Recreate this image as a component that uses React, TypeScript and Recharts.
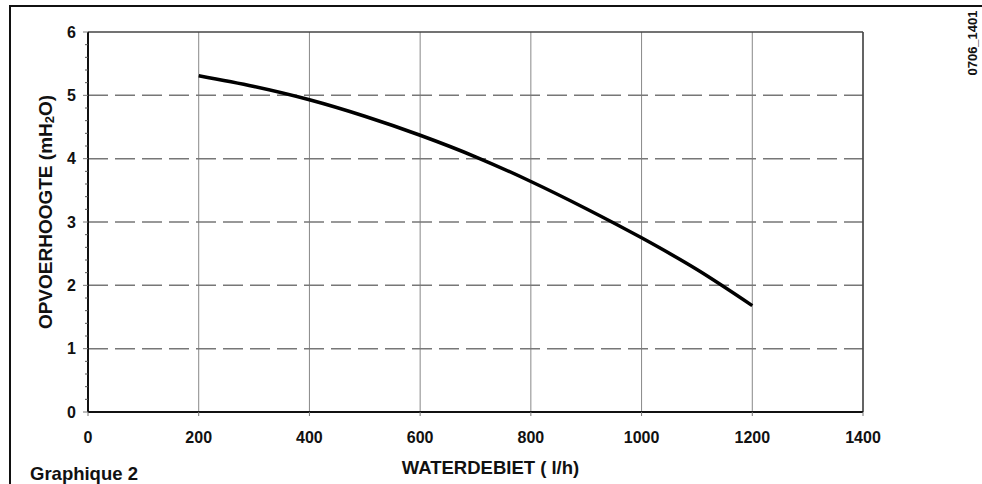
import React from 'react';
import { LineChart, Line, XAxis, YAxis, CartesianGrid, ReferenceLine, Label, Customized } from 'recharts';

const FLOW = [200, 300, 400, 500, 600, 700, 800, 900, 1000, 1100, 1200];
const HEAD = [5.31, 5.14, 4.93, 4.67, 4.37, 4.03, 3.64, 3.21, 2.75, 2.25, 1.68];
const X_TICKS = [0, 200, 400, 600, 800, 1000, 1200, 1400];
const Y_TICKS = [0, 0.2, 0.4, 0.6, 0.8, 1, 1.2, 1.4, 1.6, 1.8, 2, 2.2, 2.4, 2.6, 2.8, 3, 3.2, 3.4, 3.6, 3.8, 4, 4.2, 4.4, 4.6, 4.8, 5, 5.2, 5.4, 5.6, 5.8, 6];
const Y_DASHED = [1, 2, 3, 4, 5];
const X_LABEL = 'WATERDEBIET ( l/h)';
const Y_LABEL_MAIN = 'OPVOERHOOGTE (mH';
const Y_LABEL_SUB = '2';
const Y_LABEL_END = 'O)';
const CAPTION = 'Graphique 2';
const CODE = '0706_1401';

const data = FLOW.map((q, i) => ({ q, h: HEAD[i] }));

const FONT = '"Liberation Sans", Arial, sans-serif';
const TICK_MARGIN = 12;

const YTick = (props: any) => {
  const { x, y, payload } = props;
  const v = payload.value;
  const axisX = x + TICK_MARGIN;
  const major = Math.abs(v - Math.round(v)) < 1e-6;
  return (
    <g>
      <line x1={axisX - (major ? 5 : 3)} x2={axisX} y1={y} y2={y} stroke={major ? '#777' : '#555'} strokeWidth={1} />
      {major && (
        <text x={x} y={y} dy="0.36em" textAnchor="end" fontFamily={FONT} fontWeight="bold" fontSize={16} fill="#111">
          {Math.round(v)}
        </text>
      )}
    </g>
  );
};

const YLabel = (props: any) => {
  const vb = props.viewBox || { x: 0, y: 32, width: 88, height: 380 };
  const cx = 45;
  const cy = vb.y + vb.height / 2 - 10;
  return (
    <text
      x={cx}
      y={cy}
      transform={`rotate(-90 ${cx} ${cy})`}
      textAnchor="middle"
      dominantBaseline="central"
      fontFamily={FONT}
      fontWeight="bold"
      fontSize={19}
      fill="#111"
    >
      {Y_LABEL_MAIN}
      <tspan fontSize={13} dy={4}>{Y_LABEL_SUB}</tspan>
      <tspan dy={-4}>{Y_LABEL_END}</tspan>
    </text>
  );
};

const Extras = () => (
  <g>
    <text x={30} y={480} fontFamily={FONT} fontWeight="bold" fontSize={18.5} fill="#111">
      {CAPTION}
    </text>
    <text
      x={972}
      y={43}
      transform="rotate(-90 972 43)"
      textAnchor="middle"
      dominantBaseline="central"
      fontFamily={FONT}
      fontWeight="bold"
      fontSize={13}
      fill="#111"
    >
      {CODE}
    </text>
  </g>
);

export default function App() {
  return (
    <div style={{ position: 'absolute', left: 0, top: 0, width: 982, height: 484, background: '#fff' }}>
      <LineChart width={982} height={484} data={data} margin={{ top: 32, right: 119, bottom: 0, left: 0 }}>
        <CartesianGrid horizontal={false} stroke="#888" strokeWidth={1} />
        {Y_DASHED.map((v) => (
          <ReferenceLine key={v} y={v} stroke="#777" strokeWidth={1.5} strokeDasharray="20 7" />
        ))}
        <ReferenceLine y={6} stroke="#444" strokeWidth={1.5} />
        <ReferenceLine x={1400} stroke="#444" strokeWidth={1.5} />
        <XAxis
          dataKey="q"
          type="number"
          domain={[0, 1400]}
          ticks={X_TICKS}
          interval={0}
          height={72}
          tickSize={4}
          tickMargin={16}
          axisLine={{ stroke: '#111', strokeWidth: 2 }}
          tickLine={{ stroke: '#777' }}
          tick={{ fontFamily: FONT, fontWeight: 'bold', fontSize: 16, fill: '#111' }}
        >
          <Label
            value={X_LABEL}
            position="insideBottom"
            offset={10}
            dx={15}
            style={{ fontFamily: FONT, fontWeight: 'bold', fontSize: 18.5, fill: '#111' }}
          />
        </XAxis>
        <YAxis
          type="number"
          domain={[0, 6]}
          ticks={Y_TICKS}
          interval={0}
          width={88}
          tickSize={0}
          tickMargin={TICK_MARGIN}
          tickLine={false}
          axisLine={{ stroke: '#111', strokeWidth: 2 }}
          tick={<YTick />}
        >
          <Label content={<YLabel />} />
        </YAxis>
        <Line
          dataKey="h"
          type="monotone"
          stroke="#000"
          strokeWidth={3.5}
          dot={false}
          activeDot={false}
          isAnimationActive={false}
        />
        <Customized component={<Extras />} />
      </LineChart>
      <div
        style={{
          position: 'absolute',
          left: 9,
          top: 5,
          width: 973,
          height: 479,
          borderLeft: '2px solid #111',
          borderTop: '2px solid #111',
          boxSizing: 'border-box',
          pointerEvents: 'none',
        }}
      />
    </div>
  );
}
